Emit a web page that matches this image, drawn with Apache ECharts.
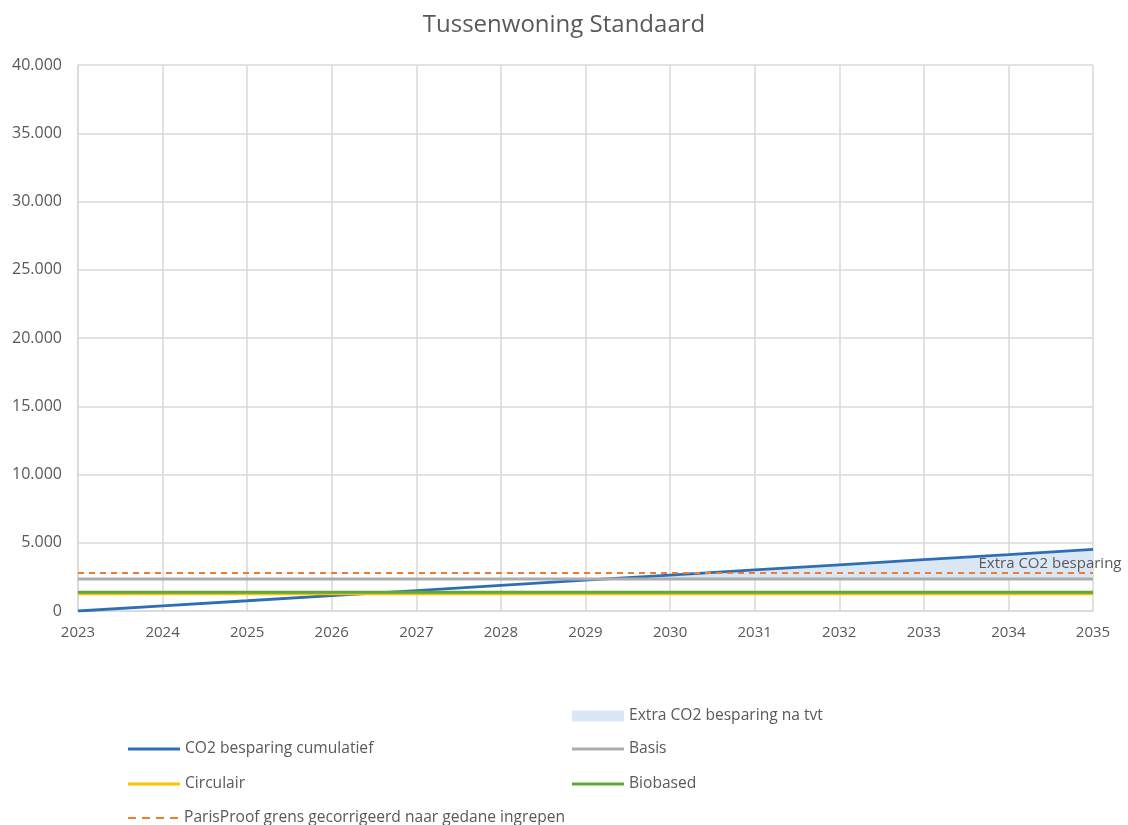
<!DOCTYPE html>
<html>
<head>
<meta charset="utf-8">
<title>Tussenwoning Standaard</title>
<script src="https://cdn.jsdelivr.net/npm/echarts@6/dist/echarts.min.js"></script>
<style>
  html, body { margin: 0; padding: 0; background: #ffffff; }
  #chart { width: 1128px; height: 825px; }
</style>
</head>
<body>
<div id="chart"></div>
<script>
// Years on the horizontal axis
const years = [2023, 2024, 2025, 2026, 2027, 2028, 2029, 2030, 2031, 2032, 2033, 2034, 2035];
// Cumulative CO2 saving per year
const cumulatief = [0, 380, 750, 1130, 1500, 1880, 2260, 2630, 3010, 3380, 3760, 4130, 4510];
// Reference levels (flat over the whole period)
const basis = [2350, 2350, 2350, 2350, 2350, 2350, 2350, 2350, 2350, 2350, 2350, 2350, 2350];
const circulair = [1260, 1260, 1260, 1260, 1260, 1260, 1260, 1260, 1260, 1260, 1260, 1260, 1260];
const biobased = [1370, 1370, 1370, 1370, 1370, 1370, 1370, 1370, 1370, 1370, 1370, 1370, 1370];
const parisProof = [2780, 2780, 2780, 2780, 2780, 2780, 2780, 2780, 2780, 2780, 2780, 2780, 2780];
// Axis settings
const yTicks = [0, 5000, 10000, 15000, 20000, 25000, 30000, 35000, 40000];

const TEXT = '#595959';
const FONT = '"Open Sans", "Noto Sans", sans-serif';

// Legend swatches: a solid stroke and a four-dash stroke
const SOLID_ICON = 'rect';
const DASH_ICON = 'path://M0,0H8V2H0Z M14,0H22V2H14Z M28,0H36V2H28Z M42,0H50V2H42Z';

function pairs(arr) { return years.map((y, i) => [y, arr[i]]); }

function fmtThousands(v) {
  const s = String(Math.round(v));
  return s.replace(/\B(?=(\d{3})+(?!\d))/g, '.');
}

// Upper edge of the band between Basis and the cumulative line, only where the
// cumulative saving exceeds Basis; the crossing point is inserted so the band
// starts exactly where the two lines meet.
const band = [];
for (let i = 0; i < years.length; i++) {
  if (i > 0) {
    const d0 = cumulatief[i - 1] - basis[i - 1];
    const d1 = cumulatief[i] - basis[i];
    if (d0 < 0 && d1 > 0) {
      const t = -d0 / (d1 - d0);
      band.push([years[i - 1] + t * (years[i] - years[i - 1]),
                 basis[i - 1] + t * (basis[i] - basis[i - 1])]);
    }
  }
  if (cumulatief[i] >= basis[i]) band.push([years[i], cumulatief[i]]);
}
const last = years.length - 1;
const bandMid = (cumulatief[last] + basis[last]) / 2;

const chart = echarts.init(document.getElementById('chart'));

function legendAt(name, left, top, icon, h) {
  return {
    data: [{ name: name, icon: icon }],
    left: left,
    top: top,
    padding: 0,
    itemWidth: 52,
    itemHeight: h,
    itemGap: 8,
    textStyle: { color: TEXT, fontSize: 15.6, fontFamily: FONT },
    selectedMode: false
  };
}

const option = {
  backgroundColor: '#ffffff',
  animation: false,
  title: {
    text: 'Tussenwoning Standaard',
    left: 'center',
    top: 8,
    textStyle: { color: TEXT, fontSize: 24, fontWeight: 'normal', fontFamily: FONT }
  },
  grid: { left: 78, right: 35, top: 65, bottom: 214, containLabel: false },
  xAxis: {
    type: 'value',
    min: years[0],
    max: years[years.length - 1],
    interval: 1,
    axisLine: { show: true, lineStyle: { color: '#d9d9d9', width: 1.5 } },
    axisTick: { show: false },
    splitLine: { show: true, lineStyle: { color: '#d9d9d9', width: 1.5 } },
    axisLabel: {
      color: TEXT, fontSize: 15, fontFamily: FONT, margin: 14,
      formatter: v => String(v)
    }
  },
  yAxis: {
    type: 'value',
    min: yTicks[0],
    max: yTicks[yTicks.length - 1],
    interval: yTicks[1] - yTicks[0],
    axisLine: { show: true, lineStyle: { color: '#d9d9d9', width: 1.5 } },
    axisTick: { show: false },
    splitLine: { show: true, lineStyle: { color: '#d9d9d9', width: 1.5 } },
    axisLabel: {
      color: TEXT, fontSize: 16, fontFamily: FONT, margin: 16,
      formatter: v => fmtThousands(v)
    }
  },
  legend: [
    legendAt('Extra CO2 besparing na tvt', 572, 708, 'rect', 11),
    legendAt('CO2 besparing cumulatief', 128, 741, SOLID_ICON, 3),
    legendAt('Basis', 572, 741, SOLID_ICON, 3),
    legendAt('Circulair', 128, 776, SOLID_ICON, 3),
    legendAt('Biobased', 572, 776, SOLID_ICON, 3),
    legendAt('ParisProof grens gecorrigeerd naar gedane ingrepen', 128, 810, DASH_ICON, 2)
  ],
  series: [
    {
      name: 'Extra CO2 besparing na tvt',
      type: 'line',
      data: band,
      symbol: 'none',
      color: '#dbe7f4',
      lineStyle: { width: 0, opacity: 0 },
      itemStyle: { color: '#dbe7f4' },
      areaStyle: { color: '#dbe7f4', opacity: 1, origin: basis[last] },
      silent: true,
      z: 1
    },
    {
      name: 'CO2 besparing cumulatief',
      type: 'line',
      data: pairs(cumulatief),
      symbol: 'none',
      color: '#2e6fb4',
      itemStyle: { color: '#2e6fb4' },
      lineStyle: { color: '#2e6fb4', width: 2.8 },
      z: 2
    },
    {
      name: 'Basis',
      type: 'line',
      data: pairs(basis),
      symbol: 'none',
      color: '#acacac',
      itemStyle: { color: '#acacac' },
      lineStyle: { color: '#acacac', width: 3 },
      z: 3,
      markPoint: {
        symbol: 'circle',
        symbolSize: 0,
        silent: true,
        data: [{
          coord: [years[last], bandMid],
          label: {
            show: true,
            formatter: 'Extra CO2 besparing',
            position: 'inside',
            offset: [-43, 0],
            color: TEXT,
            fontSize: 15,
            fontFamily: FONT
          }
        }]
      }
    },
    {
      name: 'Circulair',
      type: 'line',
      data: pairs(circulair),
      symbol: 'none',
      color: '#ffc000',
      itemStyle: { color: '#ffc000' },
      lineStyle: { color: '#ffc000', width: 3 },
      z: 4
    },
    {
      name: 'Biobased',
      type: 'line',
      data: pairs(biobased),
      symbol: 'none',
      color: '#5fa83a',
      itemStyle: { color: '#5fa83a' },
      lineStyle: { color: '#5fa83a', width: 3 },
      z: 5
    },
    {
      name: 'ParisProof grens gecorrigeerd naar gedane ingrepen',
      type: 'line',
      data: pairs(parisProof),
      symbol: 'none',
      color: '#ed7d31',
      itemStyle: { color: '#ed7d31' },
      lineStyle: { color: '#ed7d31', width: 2, type: [6, 5] },
      z: 6
    }
  ]
};

chart.setOption(option);
</script>
</body>
</html>
